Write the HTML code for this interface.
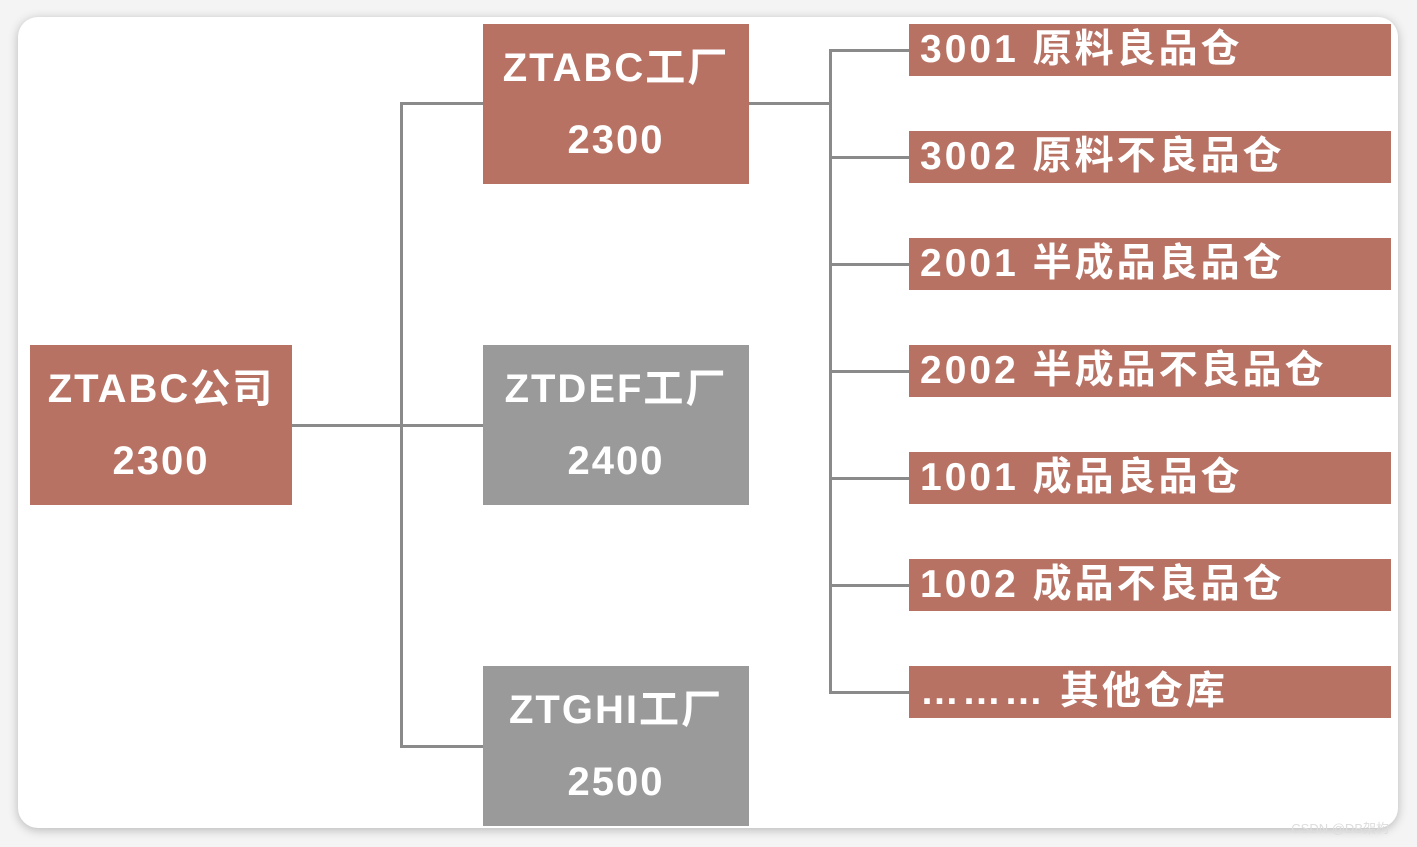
<html><head><style>
body{margin:0;width:1417px;height:847px;background:#f4f4f4;position:relative;overflow:hidden;font-family:"Liberation Sans","Noto Sans CJK SC",sans-serif}
.card{position:absolute;left:18px;top:17px;width:1380px;height:811px;background:#fff;border-radius:20px;box-shadow:0 2px 10px rgba(0,0,0,.25)}
.b{position:absolute;color:#fff;font-weight:bold}
.r{background:#b87264}.g{background:#9a9a9a}
.big{display:flex;flex-direction:column;align-items:center;justify-content:center;font-size:40px;line-height:72px;letter-spacing:2px}
.w{height:52px;left:909px;width:482px;font-size:39px;line-height:52px;padding-left:11px;box-sizing:border-box;white-space:nowrap;letter-spacing:3px}
.l{position:absolute;background:#8a8a8a}
.wm{position:absolute;right:28px;bottom:10px;color:#ddd;font-size:13px}
</style></head><body>
<div class="card"></div>
<div class="l" style="left:292px;top:424px;width:191px;height:3px"></div>
<div class="l" style="left:400px;top:102px;width:3px;height:646px"></div>
<div class="l" style="left:400px;top:102px;width:83px;height:3px"></div>
<div class="l" style="left:400px;top:745px;width:83px;height:3px"></div>
<div class="l" style="left:749px;top:102px;width:81px;height:3px"></div>
<div class="l" style="left:829px;top:49px;width:3px;height:645px"></div>
<div class="l" style="left:829px;top:49px;width:80px;height:3px"></div>
<div class="l" style="left:829px;top:156px;width:80px;height:3px"></div>
<div class="l" style="left:829px;top:263px;width:80px;height:3px"></div>
<div class="l" style="left:829px;top:370px;width:80px;height:3px"></div>
<div class="l" style="left:829px;top:477px;width:80px;height:3px"></div>
<div class="l" style="left:829px;top:584px;width:80px;height:3px"></div>
<div class="l" style="left:829px;top:691px;width:80px;height:3px"></div>
<div class="b r big" style="left:30px;top:345px;width:262px;height:160px"><div>ZTABC公司</div><div>2300</div></div>
<div class="b r big" style="left:483px;top:24px;width:266px;height:160px"><div>ZTABC工厂</div><div>2300</div></div>
<div class="b g big" style="left:483px;top:345px;width:266px;height:160px"><div>ZTDEF工厂</div><div>2400</div></div>
<div class="b g big" style="left:483px;top:666px;width:266px;height:160px"><div>ZTGHI工厂</div><div>2500</div></div>
<div class="b r w" style="top:24px">3001 原料良品仓</div>
<div class="b r w" style="top:131px">3002 原料不良品仓</div>
<div class="b r w" style="top:238px">2001 半成品良品仓</div>
<div class="b r w" style="top:345px">2002 半成品不良品仓</div>
<div class="b r w" style="top:452px">1001 成品良品仓</div>
<div class="b r w" style="top:559px">1002 成品不良品仓</div>
<div class="b r w" style="top:666px">……… 其他仓库</div>
<div class="wm">CSDN @DB架构</div>
</body></html>
